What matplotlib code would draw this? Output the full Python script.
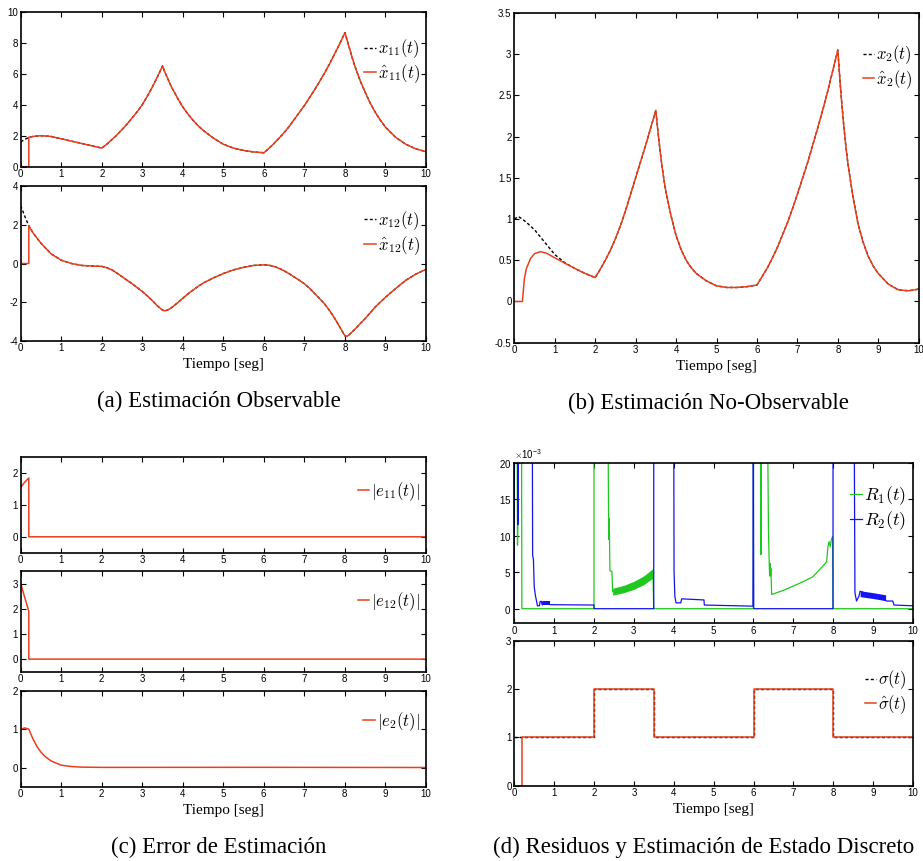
import numpy as np
import matplotlib
matplotlib.use("Agg")
import matplotlib.pyplot as plt
from matplotlib.ticker import ScalarFormatter, FuncFormatter

plt.rcParams['mathtext.fontset'] = 'cm'
plt.rcParams['axes.unicode_minus'] = False

# ---------------- data ----------------
t_state = [0, 0.1, 0.2, 0.3, 0.5, 0.75, 1.0, 1.25, 1.5, 1.75,
           2.0, 2.125, 2.25, 2.375, 2.5, 2.625, 2.75, 2.875, 3.0, 3.125, 3.25, 3.375, 3.5,
           3.55, 3.6, 3.65, 3.7, 3.75, 3.875, 4.0, 4.125, 4.25, 4.375, 4.5,
           4.75, 5.0, 5.25, 5.5, 5.75,
           6.0, 6.125, 6.25, 6.375, 6.5, 6.625, 6.75, 6.875, 7.0, 7.125, 7.25, 7.375, 7.5,
           7.625, 7.75, 7.875, 8.0,
           8.05, 8.1, 8.15, 8.2, 8.25, 8.375, 8.5, 8.625, 8.75, 8.875, 9.0,
           9.25, 9.5, 9.75, 10.0]
x11 = [1.6, 1.75, 1.9, 1.95, 2.0, 1.95, 1.8, 1.65, 1.5, 1.35,
       1.2, 1.45, 1.75, 2.05, 2.4, 2.75, 3.15, 3.55, 4.0, 4.55, 5.15, 5.8, 6.5,
       6.15, 5.85, 5.55, 5.25, 5.0, 4.4, 3.85, 3.4, 3.0, 2.65, 2.35,
       1.85, 1.45, 1.2, 1.05, 0.95,
       0.9, 1.18, 1.5, 1.84, 2.2, 2.6, 3.05, 3.5, 3.95, 4.45, 4.95, 5.5, 6.05,
       6.65, 7.3, 7.95, 8.65,
       8.2, 7.75, 7.3, 6.85, 6.45, 5.55, 4.8, 4.1, 3.5, 3.0, 2.55,
       1.9, 1.45, 1.15, 0.97]
x12 = [3.0, 2.45, 1.95, 1.6, 1.05, 0.5, 0.17, 0.0, -0.1, -0.13,
       -0.15, -0.22, -0.33, -0.5, -0.68, -0.87, -1.05, -1.25, -1.45, -1.68, -1.93, -2.2, -2.42,
       -2.45, -2.43, -2.38, -2.32, -2.24, -2.03, -1.8, -1.58, -1.38, -1.19, -1.02,
       -0.75, -0.52, -0.33, -0.2, -0.1,
       -0.07, -0.09, -0.15, -0.25, -0.38, -0.53, -0.7, -0.87, -1.05, -1.28, -1.55, -1.82, -2.1,
       -2.45, -2.85, -3.3, -3.75,
       -3.78, -3.7, -3.6, -3.5, -3.4, -3.12, -2.85, -2.55, -2.25, -2.0, -1.75,
       -1.3, -0.87, -0.55, -0.3]
x2 = [1.0, 1.03, 1.0, 0.96, 0.87, 0.72, 0.57, 0.47, 0.4, 0.34,
      0.29, 0.39, 0.5, 0.62, 0.76, 0.92, 1.1, 1.3, 1.5, 1.7, 1.9, 2.11, 2.32,
      2.07, 1.85, 1.65, 1.48, 1.33, 1.04, 0.8, 0.63, 0.5, 0.41, 0.34,
      0.25, 0.19, 0.17, 0.17, 0.18,
      0.2, 0.3, 0.4, 0.52, 0.65, 0.8, 0.95, 1.12, 1.3, 1.49, 1.68, 1.89, 2.1,
      2.32, 2.55, 2.8, 3.05,
      2.7, 2.39, 2.12, 1.88, 1.67, 1.27, 0.94, 0.72, 0.55, 0.43, 0.34,
      0.21, 0.14, 0.13, 0.15]

t_hat_start = [0, 0.2]          # estimator output before it starts
hat_start = [0, 0]
t_x2hat_early = [0, 0.2, 0.25, 0.3, 0.4, 0.5, 0.65, 0.8, 1.0, 1.25]
x2hat_early = [0, 0, 0.28, 0.4, 0.52, 0.58, 0.605, 0.585, 0.53, 0.465]

t_e1 = [0, 0.1, 0.2, 0.2, 10]
e11 = [1.55, 1.72, 1.85, 0, 0]
e12 = [3.0, 2.45, 1.9, 0, 0]
t_e2 = [0, 0.1, 0.2, 0.3, 0.4, 0.5, 0.6, 0.75, 1.0, 1.25, 1.5, 2.0, 6.0, 10.0]
e2 = [1.0, 1.03, 1.0, 0.75, 0.55, 0.4, 0.29, 0.17, 0.06, 0.025, 0.01, 0.003, 0.005, 0.0]

# residuals (values in units of 1e-3; 30 = off the top of the axes)
t_R1 = [0, 0.07, 0.08, 0.09, 0.10, 0.18, 0.19, 2.0, 2.0, 2.35, 2.36, 2.37, 2.38, 2.39, 2.40, 2.45,
        2.47, 2.5, 2.75, 3.0, 3.25, 3.48, 3.5, 6.0, 6.0, 6.18, 6.19, 6.2, 6.35, 6.38, 6.4, 6.41,
        6.42, 6.43, 6.44, 6.46, 6.75, 7.0, 7.25, 7.5, 7.84, 7.87, 7.9, 7.93, 7.96, 7.99, 8.0, 10.0]
R1_milli = [30, 30, 8.7, 11.7, 30, 30, 0, 0, 30, 30, 18, 9.5, 12.4, 9.7, 5.2, 5.1,
            2.3, 2.35, 2.7, 3.2, 3.9, 4.85, 0, 0, 30, 30, 7.4, 30, 30, 10.4, 6.0, 4.5,
            6.2, 4.5, 5.5, 1.95, 2.5, 3.1, 3.7, 4.4, 6.4, 8.4, 9.2, 8.5, 9.5, 9.9, 0, 0]
t_R1_band = [2.47, 2.75, 3.0, 3.25, 3.48]
R1_band_lo = [1.85, 2.2, 2.65, 3.3, 4.2]
R1_band_hi = [2.8, 3.2, 3.75, 4.5, 5.5]

t_R2 = [0, 0.005, 0.08, 0.09, 0.1, 0.45, 0.46, 0.48, 0.5, 0.53, 0.56, 0.58, 0.63, 0.65, 0.68, 0.70,
        0.72, 0.9, 2.0, 2.0, 3.5, 3.5, 4.0, 4.01, 4.03, 4.06, 4.18, 4.2, 4.76, 4.77, 5.99, 6.0,
        6.01, 8.0, 8.0, 8.53, 8.54, 8.55, 8.59, 8.65, 8.68, 9.32, 9.34, 9.5, 9.53, 10.0]
R2_milli = [0, 30, 30, 11.5, 30, 30, 7.3, 6.8, 3.0, 1.8, 1.0, 0.4, 0.4, 1.0, 1.0, 0.5,
            1.0, 0.55, 0.5, 0, 0, 30, 30, 5.1, 1.7, 0.8, 0.8, 1.35, 1.2, 0.5, 0.35, 30,
            0, 0, 30, 30, 14.7, 2.2, 1.05, 1.7, 2.4, 1.15, 1.05, 1.05, 0.5, 0.4]
t_R2_band1 = [0.72, 0.9]
R2_band1_lo = [0.5, 0.5]
R2_band1_hi = [1.0, 1.0]
t_R2_band2 = [8.68, 9.0, 9.32]
R2_band2_lo = [1.65, 1.4, 1.1]
R2_band2_hi = [2.45, 2.2, 1.9]

t_sigma = [0, 2, 3.5, 6, 8, 10]
sigma = [1, 2, 1, 2, 1, 1]
t_sigma_hat = [0, 0.2, 2, 3.5, 6, 8, 10]
sigma_hat = [0, 1, 2, 1, 2, 1, 1]

xticks = list(range(0, 11))

RED = '#e8401e'
GREEN = '#1ec81e'
BLUE = '#1414f0'
TICKFONT = ['Liberation Sans Narrow', 'Liberation Sans', 'DejaVu Sans']

# ---------------- figure ----------------
W, H = 923, 861
fig = plt.figure(figsize=(W / 100, H / 100), dpi=100)


def make_ax(l, r, t, b):
    return fig.add_axes([l / W, 1 - b / H, (r - l) / W, (b - t) / H])


def style(ax, ylim, yticks):
    ax.set_xlim(0, 10)
    ax.set_ylim(*ylim)
    ax.set_xticks(xticks)
    ax.set_yticks(yticks)
    ax.tick_params(direction='in', length=3.5, width=0.8, top=True, right=True,
                   labelsize=7, pad=2)
    for lab in ax.get_xticklabels() + ax.get_yticklabels():
        lab.set_family(TICKFONT)
    for s in ax.spines.values():
        s.set_linewidth(1.2)
    ax.xaxis.set_major_formatter(FuncFormatter(lambda v, p: '%g' % v))


def gfmt(ax):
    ax.yaxis.set_major_formatter(FuncFormatter(lambda v, p: '%g' % v))


def legend(ax, ytop, fs=12):
    lg = ax.legend(loc='upper right', bbox_to_anchor=(1.0, ytop), frameon=False, fontsize=fs,
                   handlelength=0.7, handletextpad=0.12, labelspacing=0.12, borderpad=0,
                   borderaxespad=0.35)
    return lg


def tiempo(ax):
    ax.set_xlabel('Tiempo [seg]', family='Liberation Serif', fontsize=11, labelpad=3)


def caption(x, y, s):
    fig.text(x / W, 1 - y / H, s, family='Liberation Serif', fontsize=16.5,
             ha='center', va='center')


dash = (0, (2.2, 1.6))
t_arr = np.array(t_state)
after = t_arr >= 0.2

# (a) top
a1 = make_ax(20.7, 426, 11.7, 166.7)
a1.plot(t_state, x11, color='k', ls=dash, lw=1.0, label=r'$x_{11}(t)$')
a1.plot(t_hat_start + list(t_arr[after]), hat_start + list(np.array(x11)[after]),
        color=RED, lw=1.1, label=r'$\hat{x}_{11}(t)$')
style(a1, (0, 10), [0, 2, 4, 6, 8, 10]); gfmt(a1)
legend(a1, 0.87)

# (a) bottom
a2 = make_ax(20.7, 426, 186.3, 340.7)
a2.plot(t_state, x12, color='k', ls=dash, lw=1.0, label=r'$x_{12}(t)$')
a2.plot(t_hat_start + list(t_arr[after]), hat_start + list(np.array(x12)[after]),
        color=RED, lw=1.1, label=r'$\hat{x}_{12}(t)$')
style(a2, (-4, 4), [-4, -2, 0, 2, 4]); gfmt(a2)
legend(a2, 0.89)
tiempo(a2)
caption(219, 401, '(a) Estimación Observable')

# (b)
b = make_ax(514.3, 918.7, 13, 342.7)
b.plot(t_state, x2, color='k', ls=dash, lw=1.0, label=r'$x_2(t)$')
late = t_arr > 1.25
b.plot(t_x2hat_early + list(t_arr[late]), x2hat_early + list(np.array(x2)[late]),
       color=RED, lw=1.1, label=r'$\hat{x}_2(t)$')
style(b, (-0.5, 3.5), [-0.5, 0, 0.5, 1, 1.5, 2, 2.5, 3, 3.5]); gfmt(b)
legend(b, 0.925)
tiempo(b)
caption(708, 403, '(b) Estimación No-Observable')

# (c) errors
c1 = make_ax(20.7, 425.7, 457.3, 552.7)
c1.plot(t_e1, e11, color=RED, lw=1.1, label=r'$|e_{11}(t)|$')
style(c1, (-0.5, 2.5), [0, 1, 2]); gfmt(c1)
legend(c1, 0.82)

c2 = make_ax(20.7, 425.7, 571, 671.7)
c2.plot(t_e1, e12, color=RED, lw=1.1, label=r'$|e_{12}(t)|$')
style(c2, (-0.5, 3.5), [0, 1, 2, 3]); gfmt(c2)
legend(c2, 0.87)

c3 = make_ax(20.7, 425.7, 690.7, 786.7)
c3.plot(t_e2, e2, color=RED, lw=1.1, label=r'$|e_2(t)|$')
style(c3, (-0.5, 2), [0, 1, 2]); gfmt(c3)
legend(c3, 0.86)
tiempo(c3)
caption(219, 847, '(c) Error de Estimación')

# (d) residuals
d1 = make_ax(514.3, 912.7, 462.7, 623.3)
k = 1e-3
d1.plot(t_R1, np.array(R1_milli) * k, color=GREEN, lw=0.9, label=r'$R_1(t)$')
d1.fill_between(t_R1_band, np.array(R1_band_lo) * k, np.array(R1_band_hi) * k,
                color=GREEN, lw=0)
d1.plot(t_R2, np.array(R2_milli) * k, color=BLUE, lw=0.9, label=r'$R_2(t)$')
d1.fill_between(t_R2_band1, np.array(R2_band1_lo) * k, np.array(R2_band1_hi) * k,
                color=BLUE, lw=0)
d1.fill_between(t_R2_band2, np.array(R2_band2_lo) * k, np.array(R2_band2_hi) * k,
                color=BLUE, lw=0)
style(d1, (-0.002, 0.02), [0, 0.005, 0.01, 0.015, 0.02])
sf = ScalarFormatter(useMathText=True)
sf.set_powerlimits((-3, -3))
d1.yaxis.set_major_formatter(sf)
d1.yaxis.get_offset_text().set_fontsize(7)
d1.yaxis.get_offset_text().set_family(TICKFONT)
legend(d1, 0.905, fs=13)

d2 = make_ax(514.3, 913, 641, 785.7)
d2.step(t_sigma, sigma, where='post', color='k', ls=dash, lw=1.0, label=r'$\sigma(t)$')
d2.step(t_sigma_hat, sigma_hat, where='post', color=RED, lw=1.1, label=r'$\hat{\sigma}(t)$')
style(d2, (0, 3), [0, 1, 2, 3]); gfmt(d2)
legend(d2, 0.85)
tiempo(d2)
caption(704, 847, '(d) Residuos y Estimación de Estado Discreto')

fig.savefig('out.png', dpi=100)
